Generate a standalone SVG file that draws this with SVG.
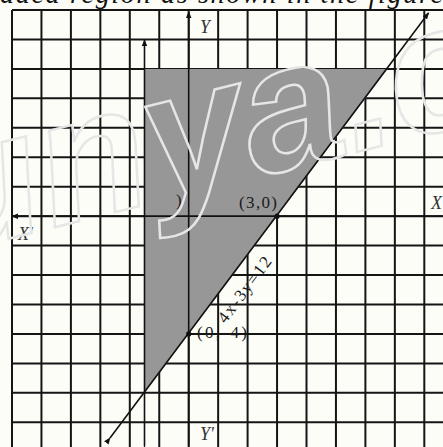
<svg xmlns="http://www.w3.org/2000/svg" width="443" height="447" viewBox="0 0 443 447">
<style>
.grid line{stroke:#151515;stroke-width:2}
.ax{stroke:#111;stroke-width:1.6;fill:none}
.lbl{font-family:"Liberation Serif",serif;font-size:17px;fill:#1a1a1a}
.it{font-family:"Liberation Serif",serif;font-style:italic;font-size:18px;fill:#333}
.wm{font-family:"Liberation Sans",sans-serif;font-style:italic;font-weight:bold;font-size:180px;fill:none;stroke:#e6e6e6;stroke-width:2.5}
</style>
<defs>
<marker id="ah" viewBox="0 0 8 8" refX="7" refY="4" markerWidth="7" markerHeight="7" orient="auto" markerUnits="userSpaceOnUse">
<path d="M0,0.8 L8,4 L0,7.2 Z" fill="#111"/>
</marker>
</defs>
<rect width="443" height="447" fill="#fdfdf8"/>
<text x="0" y="3" font-family="Liberation Serif,serif" font-style="italic" font-size="28" textLength="443" fill="#111">aded region as shown in the figure</text>
<g id="grid" class="grid">
<line x1="12" y1="10" x2="12" y2="447"/>
<line x1="41.45" y1="10" x2="41.45" y2="447"/>
<line x1="70.9" y1="10" x2="70.9" y2="447"/>
<line x1="100.35" y1="10" x2="100.35" y2="447"/>
<line x1="129.8" y1="10" x2="129.8" y2="447"/>
<line x1="159.25" y1="10" x2="159.25" y2="447"/>
<line x1="188.7" y1="10" x2="188.7" y2="447"/>
<line x1="218.15" y1="10" x2="218.15" y2="447"/>
<line x1="247.6" y1="10" x2="247.6" y2="447"/>
<line x1="277.05" y1="10" x2="277.05" y2="447"/>
<line x1="306.5" y1="10" x2="306.5" y2="447"/>
<line x1="335.95" y1="10" x2="335.95" y2="447"/>
<line x1="365.4" y1="10" x2="365.4" y2="447"/>
<line x1="394.85" y1="10" x2="394.85" y2="447"/>
<line x1="424.3" y1="10" x2="424.3" y2="447"/>
<line x1="12" y1="10" x2="443" y2="10"/>
<line x1="12" y1="39.45" x2="443" y2="39.45"/>
<line x1="12" y1="68.9" x2="443" y2="68.9"/>
<line x1="12" y1="98.35" x2="443" y2="98.35"/>
<line x1="12" y1="127.8" x2="443" y2="127.8"/>
<line x1="12" y1="157.25" x2="443" y2="157.25"/>
<line x1="12" y1="186.7" x2="443" y2="186.7"/>
<line x1="12" y1="216.15" x2="443" y2="216.15"/>
<line x1="12" y1="245.6" x2="443" y2="245.6"/>
<line x1="12" y1="275.05" x2="443" y2="275.05"/>
<line x1="12" y1="304.5" x2="443" y2="304.5"/>
<line x1="12" y1="333.95" x2="443" y2="333.95"/>
<line x1="12" y1="363.4" x2="443" y2="363.4"/>
<line x1="12" y1="392.85" x2="443" y2="392.85"/>
<line x1="12" y1="422.3" x2="443" y2="422.3"/>
</g>
<g id="region">
<polygon points="144.5,68.9 387.5,68.9 144.5,392.85" fill="#979797"/>
</g>
<g id="connectors">
<line class="ax" x1="188.7" y1="446" x2="188.7" y2="12" marker-end="url(#ah)" marker-start="url(#ah)"/>
<line class="ax" x1="443" y1="216.15" x2="12" y2="216.15" marker-end="url(#ah)"/>
<line class="ax" x1="144.5" y1="446" x2="144.5" y2="40" marker-end="url(#ah)" marker-start="url(#ah)"/>
<line class="ax" x1="110" y1="438" x2="428.5" y2="13" marker-end="url(#ah)" marker-start="url(#ah)"/>
<circle cx="277.05" cy="216.15" r="2.6" fill="#111"/>
<circle cx="188.7" cy="333.95" r="2.6" fill="#111"/>
</g>
<g id="labels">
<text class="lbl" x="239" y="208" textLength="38">(3,0)</text>
<text class="lbl" x="197" y="338" textLength="50">(0,-4)</text>
<text class="lbl" transform="translate(245,290) rotate(-53.13)" text-anchor="middle" y="5" font-size="16" textLength="78">4x-3y=12</text>
<text class="lbl" x="176" y="206">)</text>
<text class="it" x="200" y="33">Y</text>
<text class="it" x="200" y="440">Y'</text>
<text class="it" x="431" y="209">X</text>
<text class="it" x="18" y="240">X'</text>
</g>
<g id="watermark">
<text class="wm" transform="translate(52,228) rotate(-14)" x="-110">unya.c</text>
</g>
</svg>
